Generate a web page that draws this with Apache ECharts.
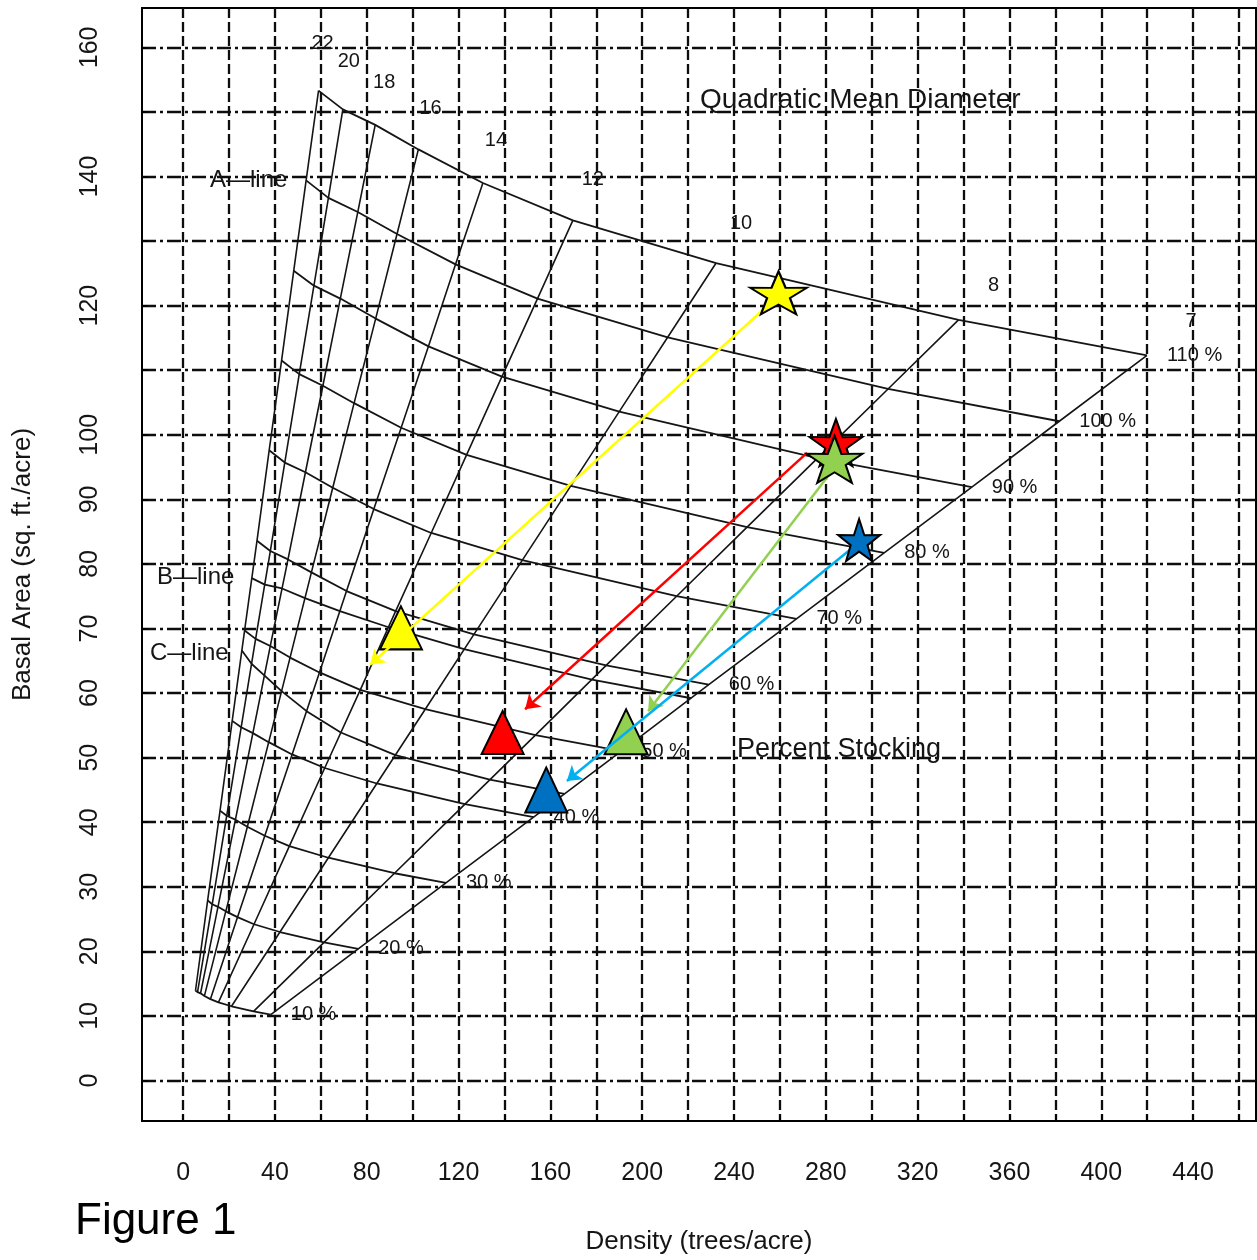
<!DOCTYPE html>
<html>
<head>
<meta charset="utf-8">
<title>Stocking chart</title>
<script src="https://cdn.jsdelivr.net/npm/echarts@6/dist/echarts.min.js"></script>
<style>
  html, body { margin: 0; padding: 0; background: #fff; }
  #chart { width: 1257px; height: 1260px; }
</style>
</head>
<body>
<div id="chart"></div>
<script>
// axis ticks
const xTickLabels = [0, 40, 80, 120, 160, 200, 240, 280, 320, 360, 400, 440];
const xGridValues = [0, 20, 40, 60, 80, 100, 120, 140, 160, 180, 200, 220, 240, 260, 280, 300, 320, 340, 360, 380, 400, 420, 440, 460];
const yTickLabels = [0, 10, 20, 30, 40, 50, 60, 70, 80, 90, 100, 120, 140, 160];
const yGridValues = [0, 10, 20, 30, 40, 50, 60, 70, 80, 90, 100, 110, 120, 130, 140, 150, 160];

// quadratic mean diameter lines (inches)
const diameters = ['22', '20', '18', '16', '14', '12', '10', '8', '7'];
const stockingNames = ['10 %', '20 %', '30 %', '40 %', '50 %', '60 %', '70 %', '80 %', '90 %', '100 %', '110 %'];

// [trees/acre, basal area] where each stocking curve crosses the 22,20,...,7 inch lines
const stock10 = [[5.4, 13.9], [6.3, 13.7], [7.6, 13.5], [9.3, 13.1], [11.9, 12.6], [15.4, 12.1], [21.1, 11.5], [30.7, 10.7], [38.2, 10.2]];
const stock20 = [[10.7, 27.9], [12.7, 27.3], [15.2, 26.9], [18.6, 26.2], [23.7, 25.3], [30.9, 24.2], [42.2, 23.0], [61.4, 21.4], [76.3, 20.4]];
const stock30 = [[16.1, 41.8], [19.0, 41.0], [22.8, 40.4], [28.0, 39.3], [35.6, 37.9], [46.3, 36.3], [63.3, 34.5], [92.1, 32.1], [114.5, 30.6]];
const stock40 = [[21.4, 55.7], [25.3, 54.7], [30.4, 53.8], [37.3, 52.4], [47.5, 50.5], [61.7, 48.4], [84.4, 46.0], [122.8, 42.8], [152.7, 40.8]];
const stock50 = [[26.8, 69.7], [31.6, 68.4], [38.0, 67.3], [46.6, 65.5], [59.4, 63.2], [77.2, 60.5], [105.5, 57.5], [153.5, 53.5], [190.9, 51.0]];
const stock60 = [[32.2, 83.6], [38.0, 82.0], [45.7, 80.7], [55.9, 78.7], [71.2, 75.8], [92.6, 72.7], [126.7, 69.1], [184.3, 64.3], [229.0, 61.3]];
const stock70 = [[37.5, 97.6], [44.3, 95.7], [53.3, 94.2], [65.2, 91.8], [83.1, 88.5], [108.1, 84.8], [147.8, 80.6], [215.0, 75.0], [267.2, 71.5]];
const stock80 = [[42.9, 111.5], [50.6, 109.4], [60.9, 107.6], [74.5, 104.9], [95.0, 101.1], [123.5, 96.9], [168.9, 92.1], [245.7, 85.7], [305.4, 81.7]];
const stock90 = [[48.2, 125.4], [57.0, 123.1], [68.5, 121.1], [83.9, 118.0], [106.9, 113.7], [138.9, 109.0], [190.0, 103.6], [276.4, 96.4], [343.6, 91.9]];
const stock100 = [[53.6, 139.4], [63.3, 136.7], [76.1, 134.5], [93.2, 131.1], [118.7, 126.4], [154.4, 121.1], [211.1, 115.1], [307.1, 107.1], [381.7, 102.1]];
const stock110 = [[59.0, 153.3], [69.6, 150.4], [83.7, 148.0], [102.5, 144.2], [130.6, 139.0], [169.8, 133.2], [232.2, 126.6], [337.8, 117.8], [419.9, 112.3]];

const bLine = [[29.9, 77.8], [35.6, 76.8], [43.1, 76.2], [53.1, 74.7], [68.3, 72.7], [89.5, 70.2], [122.4, 66.8], [178.1, 62.1], [221.4, 59.2]];
const cLine = [[25.6, 66.6], [29.9, 64.5], [35.5, 62.7], [42.9, 60.3], [53.8, 57.2], [68.7, 53.9], [92.5, 50.4], [133.6, 46.6], [166.1, 44.4]];

// stands: now (stars) and after thinning (triangles): yellow, red, green, blue
const starPoints = [[259.4, 122.0], [284.4, 98.8], [283.8, 96.2], [294.5, 83.7]];
const trianglePoints = [[94.9, 70.1], [139.2, 53.9], [193.0, 54.0], [158.2, 45.0]];
const arrowFrom = [[256.6, 120.6], [271.8, 97.2], [281.4, 93.8], [296.0, 83.8]];
const arrowTo = [[81.5, 64.4], [149.0, 57.5], [202.6, 57.2], [167.2, 46.4]];

const stockCurves = [stock10, stock20, stock30, stock40, stock50, stock60, stock70, stock80, stock90, stock100, stock110];

const font = "'Liberation Sans', Arial, sans-serif";
const ink = '#151515';
const fills = ['#ffff00', '#ff0000', '#92d050', '#0070c0'];
const arrowColors = ['#ffff00', '#ff0000', '#92d050', '#00b0f0'];
const starSizes = [[57, 43], [53, 47], [56, 47], [42, 42]];
const triSizes = [[42, 43], [42, 43], [43, 45], [42, 45]];
// pixel nudge of diameter numbers from the top end of each line
const diamNudge = [[4, -47], [6, -48], [9, -42], [12, -41], [13, -43], [20, -41], [25, -40], [35, -34], [44, -34]];
const starPath = 'path://M50,0 L61.8,35.1 L97.6,34.5 L69.1,56.7 L79.4,91 L50,70.5 L20.6,91 L30.9,56.7 L2.4,34.5 L38.2,35.1 Z';

const textLabel = { show: true, formatter: '{b}', color: ink, fontSize: 20, fontFamily: font, textBorderWidth: 0, opacity: 1 };

const series = [];

stockCurves.forEach((curve, i) => {
  series.push({
    type: 'line', name: stockingNames[i], data: curve, symbol: 'none', silent: true, z: 3,
    lineStyle: { color: ink, width: 1.8 }
  });
});
[bLine, cLine].forEach((curve) => {
  series.push({
    type: 'line', data: curve, symbol: 'none', silent: true, z: 3,
    lineStyle: { color: ink, width: 1.8 }
  });
});
diameters.forEach((d, j) => {
  series.push({
    type: 'line', name: d, data: stockCurves.map(c => c[j]), symbol: 'none', silent: true, z: 3,
    lineStyle: { color: ink, width: 1.6 }
  });
});

// stocking labels at the 7 inch end
series.push({
  type: 'scatter', symbolSize: 0, silent: true, z: 4,
  itemStyle: { opacity: 1 },
  data: stockCurves.map((c, i) => ({ name: stockingNames[i], value: c[c.length - 1] })),
  label: Object.assign({}, textLabel, { position: 'right', distance: 20 })
});
// diameter labels at the top end
series.push({
  type: 'scatter', symbolSize: 0, silent: true, z: 4,
  itemStyle: { opacity: 1 },
  data: diameters.map((d, j) => ({ name: d, value: stock110[j], label: { offset: diamNudge[j] } })),
  label: Object.assign({}, textLabel, { position: 'inside' })
});

series.push({
  type: 'scatter', symbol: 'triangle', silent: true, z: 6,
  data: trianglePoints.map((p, i) => ({
    value: p, symbolSize: triSizes[i],
    itemStyle: { color: fills[i], borderColor: '#000', borderWidth: 2, opacity: 1 }
  }))
});

series.push({
  type: 'lines', coordinateSystem: 'cartesian2d', silent: true, z: 7,
  symbol: ['none', 'arrow'], symbolSize: 14,
  data: arrowFrom.map((p, i) => ({
    coords: [p, arrowTo[i]],
    lineStyle: { color: arrowColors[i], width: 2.5, opacity: 1 }
  }))
});

series.push({
  type: 'scatter', symbol: starPath, silent: true, z: 8,
  data: starPoints.map((p, i) => ({
    value: p, symbolSize: starSizes[i],
    itemStyle: { color: fills[i], borderColor: '#000', borderWidth: 2, opacity: 1 }
  }))
});

const chart = echarts.init(document.getElementById('chart'), null, { renderer: 'canvas' });

chart.setOption({
  animation: false,
  backgroundColor: '#fff',
  grid: { left: 142, top: 8, right: 1, bottom: 138, show: true, borderColor: '#000', borderWidth: 2, backgroundColor: 'transparent' },
  xAxis: {
    type: 'value', min: -17.9, max: 467.4,
    name: 'Density (trees/acre)', nameLocation: 'middle', nameGap: 108,
    nameTextStyle: { color: ink, fontSize: 26, fontFamily: font },
    axisLine: { show: true, onZero: false, lineStyle: { color: '#000', width: 2 } },
    axisTick: { show: true, inside: true, length: 6, customValues: xGridValues, lineStyle: { color: '#000', width: 1.5 } },
    axisLabel: { customValues: xTickLabels, margin: 40, color: ink, fontSize: 25, fontFamily: font },
    splitLine: { show: true, lineStyle: { color: '#0d0d0d', width: 2.3, type: [10, 4] } }
  },
  yAxis: {
    type: 'value', min: -6.27, max: 166.1,
    name: 'Basal Area (sq. ft./acre)', nameLocation: 'middle', nameGap: 106,
    nameTextStyle: { color: ink, fontSize: 26, fontFamily: font },
    axisLine: { show: true, onZero: false, lineStyle: { color: '#000', width: 2 } },
    axisTick: { show: true, inside: true, length: 6, customValues: yGridValues, lineStyle: { color: '#000', width: 1.5 } },
    axisLabel: { customValues: yTickLabels, rotate: 90, margin: 39, color: ink, fontSize: 25, fontFamily: font },
    splitLine: { show: true, lineStyle: { color: '#0d0d0d', width: 2.3, type: [14, 4, 3, 4] } }
  },
  graphic: [
    { type: 'text', x: 700, y: 100, z: 100, style: { text: 'Quadratic Mean Diameter', font: '28px ' + font, fill: ink, verticalAlign: 'middle' } },
    { type: 'text', x: 737, y: 750, z: 100, style: { text: 'Percent Stocking', font: '27px ' + font, fill: ink, verticalAlign: 'middle' } },
    { type: 'text', x: 210, y: 180, z: 100, style: { text: 'A\u2014line', font: '24px ' + font, fill: ink, verticalAlign: 'middle' } },
    { type: 'text', x: 157, y: 577, z: 100, style: { text: 'B\u2014line', font: '24px ' + font, fill: ink, verticalAlign: 'middle' } },
    { type: 'text', x: 150, y: 653, z: 100, style: { text: 'C\u2014line', font: '24px ' + font, fill: ink, verticalAlign: 'middle' } },
    { type: 'text', x: 75, y: 1222, z: 100, style: { text: 'Figure 1', font: '44px ' + font, fill: '#000', verticalAlign: 'middle' } }
  ],
  series: series
});
</script>
</body>
</html>
